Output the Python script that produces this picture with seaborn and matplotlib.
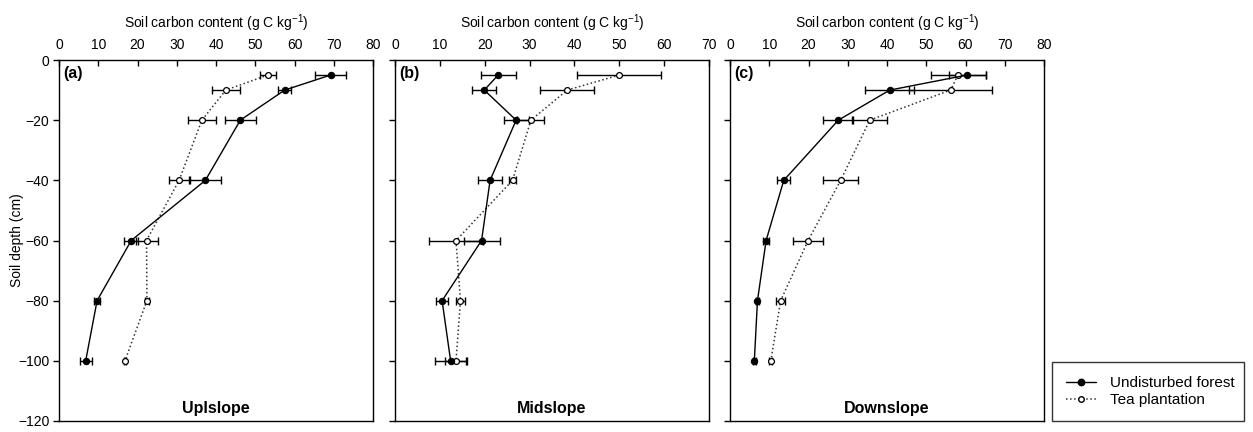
import matplotlib
matplotlib.use("Agg")
import matplotlib.pyplot as plt
import seaborn as sns
import pandas as pd
from matplotlib.lines import Line2D

sns.set_theme(style="white")
plt.rcParams['font.family'] = ['Liberation Sans', 'DejaVu Sans']
plt.rcParams['axes.unicode_minus'] = True
plt.rcParams['text.color'] = 'black'
plt.rcParams['axes.labelcolor'] = 'black'
plt.rcParams['xtick.color'] = 'black'
plt.rcParams['ytick.color'] = 'black'

depth = [-5, -10, -20, -40, -60, -80, -100]

up_forest = [69.2, 57.5, 46.2, 37.3, 18.4, 9.7, 6.8]
up_forest_se = [4.0, 1.6, 4.0, 4.0, 1.8, 0.8, 1.5]
up_tea = [53.2, 42.5, 36.4, 30.6, 22.3, 22.4, 16.8]
up_tea_se = [2.0, 3.5, 3.6, 2.5, 2.8, 0.5, 0.3]

mid_forest = [23.0, 19.9, 27.0, 21.2, 19.3, 10.5, 12.4]
mid_forest_se = [3.9, 2.7, 2.8, 2.7, 4.0, 1.4, 3.4]
mid_tea = [50.0, 38.4, 30.3, 26.2, 13.6, 14.6, 13.6]
mid_tea_se = [9.4, 6.0, 3.0, 0.8, 6.0, 1.0, 2.5]

down_forest = [60.4, 40.7, 27.6, 13.7, 9.2, 7.0, 6.2]
down_forest_se = [4.7, 6.2, 3.8, 1.6, 0.8, 0.4, 0.4]
down_tea = [58.1, 56.2, 35.6, 28.2, 19.9, 12.9, 10.4]
down_tea_se = [7.0, 10.6, 4.5, 4.4, 3.9, 1.2, 0.4]

panel_labels = ["(a)", "(b)", "(c)"]
slope_names = ["Uplslope", "Midslope", "Downslope"]
xmax = [80, 70, 80]
series_names = ["Undisturbed forest", "Tea plantation"]

panels = [
    (up_forest, up_forest_se, up_tea, up_tea_se),
    (mid_forest, mid_forest_se, mid_tea, mid_tea_se),
    (down_forest, down_forest_se, down_tea, down_tea_se),
]

fig = plt.figure(figsize=(12.53, 4.32), dpi=100)
W, H = 1253, 432
lefts = [59, 395, 730]
aw = 314
top, bottom = 60, 421

FS = 10
BFS = 11.5
for i, (f, fse, t, tse) in enumerate(panels):
    ax = fig.add_axes([lefts[i] / W, 1 - bottom / H, aw / W, (bottom - top) / H])
    df = pd.DataFrame({"depth": depth, "forest": f, "tea": t})
    ax.errorbar(t, depth, xerr=tse, fmt='none', ecolor='black', elinewidth=1,
                capsize=2.6, capthick=1, zorder=2)
    ax.errorbar(f, depth, xerr=fse, fmt='none', ecolor='black', elinewidth=1,
                capsize=2.6, capthick=1, zorder=2)
    sns.lineplot(data=df, x="tea", y="depth", sort=False, estimator=None, ax=ax,
                 color='#333333', linestyle=':', linewidth=1.1, marker='o',
                 markersize=4.2, markerfacecolor='white', markeredgecolor='black',
                 markeredgewidth=0.9, zorder=3)
    sns.lineplot(data=df, x="forest", y="depth", sort=False, estimator=None, ax=ax,
                 color='black', linestyle='-', linewidth=1, marker='o',
                 markersize=4.6, markerfacecolor='black', markeredgecolor='black',
                 zorder=4)
    ax.set_xlim(0, xmax[i])
    ax.set_ylim(-120, 0)
    ax.set_xticks(range(0, xmax[i] + 1, 10))
    ax.set_yticks(range(-120, 1, 20))
    ax.xaxis.set_label_position('top')
    ax.xaxis.tick_top()
    ax.set_xlabel("Soil carbon content (g C kg$^{\\mathregular{-1}}$)", fontsize=FS,
                  labelpad=7, color='black')
    ax.tick_params(axis='x', direction='in', length=4, width=1, color='black',
                   labelcolor='black', labelsize=FS, pad=6, top=True, bottom=False)
    ax.tick_params(axis='y', direction='out', length=4, width=1, color='black',
                   labelcolor='black', labelsize=FS, pad=3, left=True)
    if i == 0:
        ax.set_ylabel("Soil depth (cm)", fontsize=FS, color='black')
        ax.yaxis.set_label_coords(-0.112, 0.5)
    else:
        ax.set_yticklabels([])
        ax.set_ylabel("")
    for s in ax.spines.values():
        s.set_color('black')
        s.set_linewidth(1)
        s.set_visible(True)
    ax.text(0.013, 0.962, panel_labels[i], transform=ax.transAxes, fontsize=BFS,
            fontweight='bold', ha='left', va='center', color='black')
    ax.text(0.5, 0.035, slope_names[i], transform=ax.transAxes, fontsize=BFS,
            fontweight='bold', ha='center', va='center', color='black')
    if ax.get_legend():
        ax.get_legend().remove()

handles = [
    Line2D([], [], color='black', linestyle='-', linewidth=1, marker='o',
           markersize=4.6, markerfacecolor='black'),
    Line2D([], [], color='#333333', linestyle=':', linewidth=1.1, marker='o',
           markersize=4.0, markerfacecolor='white', markeredgecolor='black'),
]
leg = fig.legend(handles, series_names, loc='lower left',
                 bbox_to_anchor=(1052 / W, 1 - 421 / H, (1244 - 1052) / W, (421 - 362) / H),
                 mode='expand', fontsize=11, frameon=True, fancybox=False,
                 edgecolor='black', borderaxespad=0, handlelength=2.0,
                 handletextpad=0.9, borderpad=0.9, labelspacing=0.2)
leg.get_frame().set_linewidth(1)
for txt in leg.get_texts():
    txt.set_color('black')

fig.savefig("out.png", dpi=100)
